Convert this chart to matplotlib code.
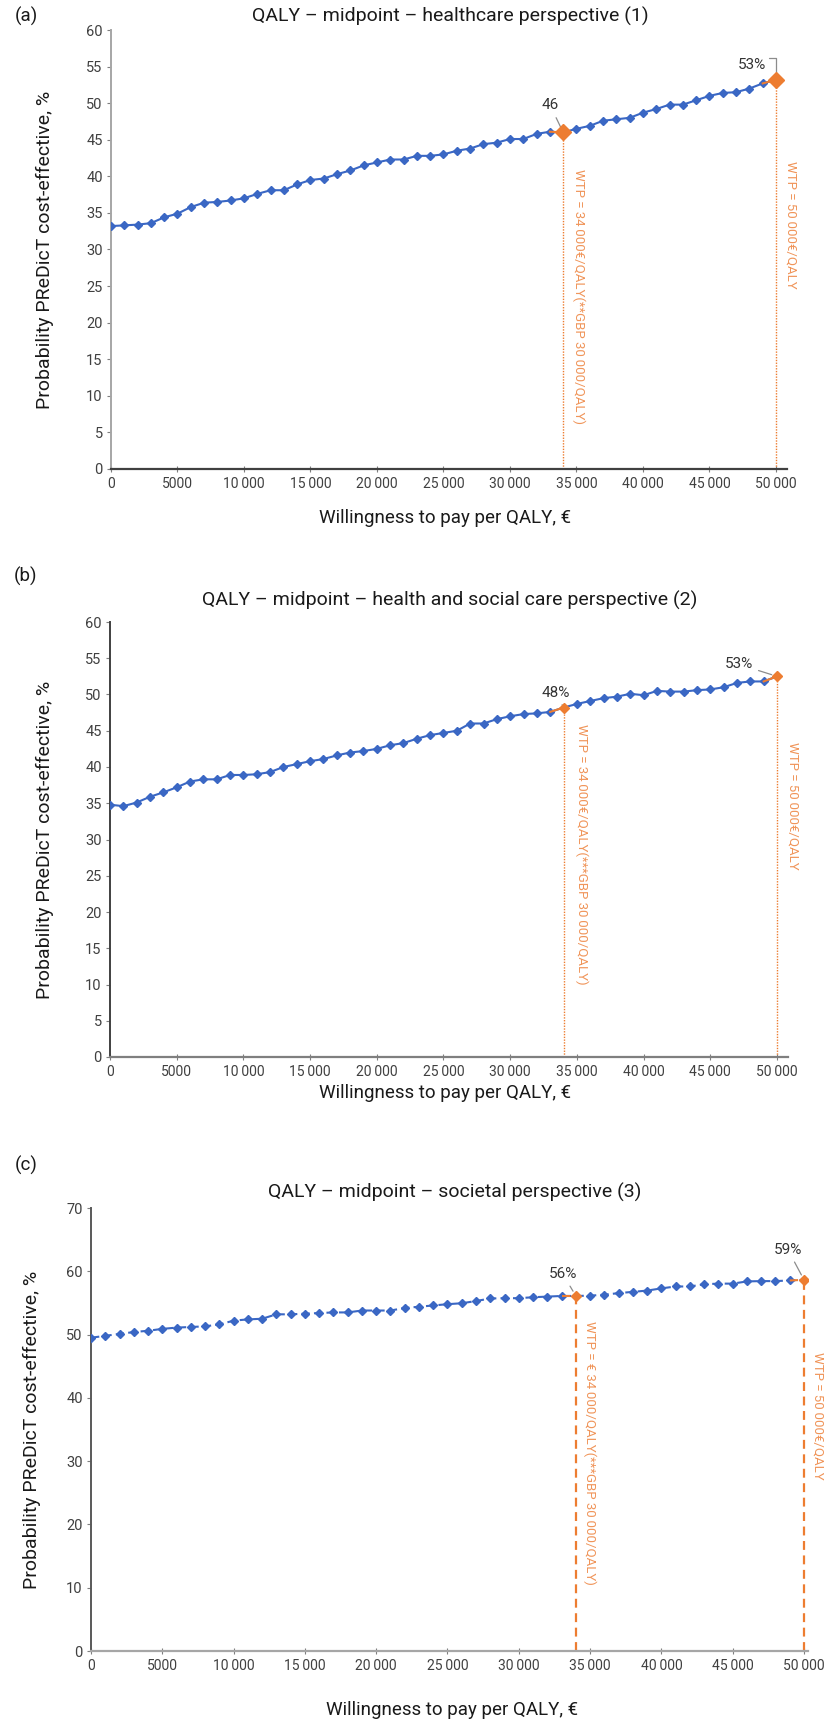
import numpy as np
import matplotlib.pyplot as plt

# размеры эталона в пикселях
W, H = 829, 1726

wtp = np.arange(0, 50001, 1000)

# вероятность cost-effective, %
prob_healthcare = [33.2, 33.3, 33.4, 33.6, 34.4, 34.9, 35.8, 36.4, 36.5, 36.7,
                   37.0, 37.6, 38.1, 38.1, 38.9, 39.5, 39.7, 40.3, 40.8, 41.5,
                   41.9, 42.3, 42.3, 42.8, 42.8, 43.0, 43.5, 43.8, 44.4, 44.6,
                   45.1, 45.1, 45.8, 46.1, 46.0, 46.5, 46.9, 47.6, 47.8, 48.0,
                   48.7, 49.2, 49.8, 49.8, 50.4, 51.0, 51.4, 51.5, 52.0, 52.7,
                   53.2]
prob_health_social = [34.8, 34.6, 35.1, 35.9, 36.5, 37.2, 38.0, 38.3, 38.3, 38.9,
                      38.9, 39.0, 39.3, 40.0, 40.4, 40.8, 41.1, 41.6, 42.0, 42.2,
                      42.5, 43.0, 43.3, 43.9, 44.4, 44.7, 45.0, 46.0, 46.0, 46.6,
                      47.0, 47.3, 47.4, 47.6, 48.2, 48.7, 49.1, 49.5, 49.7, 50.1,
                      49.9, 50.5, 50.4, 50.4, 50.6, 50.7, 51.0, 51.6, 51.8, 51.8,
                      52.5]
prob_societal = [49.5, 49.8, 50.1, 50.4, 50.6, 50.9, 51.1, 51.2, 51.3, 51.6,
                 52.2, 52.4, 52.5, 53.2, 53.2, 53.3, 53.4, 53.5, 53.5, 53.8,
                 53.8, 53.8, 54.2, 54.4, 54.6, 54.8, 54.95, 55.3, 55.7, 55.75,
                 55.75, 55.9, 56.0, 56.1, 56.1, 56.15, 56.3, 56.55, 56.75, 56.95,
                 57.3, 57.6, 57.6, 57.95, 58.05, 58.05, 58.4, 58.45, 58.45, 58.55,
                 58.65]

titles = ["QALY – midpoint – healthcare perspective (1)",
          "QALY – midpoint – health and social care perspective (2)",
          "QALY – midpoint – societal perspective (3)"]
letters = ["(a)", "(b)", "(c)"]
wtp34_labels = ["WTP = 34\u2009000€/QALY(**GBP 30\u2009000/QALY)",
                "WTP = 34\u2009000€/QALY(***GBP 30\u2009000/QALY)",
                "WTP = € 34\u2009000/QALY(***GBP 30\u2009000/QALY)"]
wtp50_label = "WTP = 50\u2009000€/QALY"
point_labels = [("46", "53%"), ("48%", "53%"), ("56%", "59%")]

BLUE = "#3A67C4"
ORANGE = "#ED7D31"
GREY_TXT = "#404040"

plt.rcParams["font.family"] = ["Roboto", "DejaVu Sans"]

fig = plt.figure(figsize=(W / 100, H / 100), dpi=100)


def rect(left, right, top, bottom):
    return [left / W, 1 - bottom / H, (right - left) / W, (bottom - top) / H]


def xlab(v):
    if v < 10000:
        return str(int(v))
    return f"{int(v) // 1000}\u2009000"


def draw_panel(values, geo, i):
    x0, x50, top, bottom, ymax, ystep, xmax = geo["box"]
    right = x0 + (x50 - x0) * xmax / 50000
    ax = fig.add_axes(rect(x0, right, top, bottom))
    vals = np.array(values)

    ls = (0, (4, 2)) if i == 2 else "-"
    ax.plot(wtp, vals, color=BLUE, lw=1.5, ls=ls, marker="D", ms=3.6,
            mfc=BLUE, mec=BLUE, zorder=3)
    # сегменты перед отмеченными точками в оранжевом
    for k in (34, 50):
        ax.plot(wtp[k - 1:k + 1], vals[k - 1:k + 1], color=ORANGE, lw=1.5,
                ls=ls, zorder=3)
    ms_o = 8 if i == 0 else 5
    ax.plot(wtp[[34, 50]], vals[[34, 50]], "D", color=ORANGE, ms=ms_o, zorder=4)

    # вертикальные линии WTP
    vls = (0, (4, 2.5)) if i == 2 else (0, (1, 1))
    vlw = 1.6 if i == 2 else 1.0
    for k in (34, 50):
        ax.plot([wtp[k], wtp[k]], [0, vals[k]], color=ORANGE, ls=vls, lw=vlw, zorder=2)

    # подписи WTP, повернутые
    for k, s, (dx, dy) in zip((34, 50), (wtp34_labels[i], wtp50_label), geo["wtp_txt"]):
        ax.annotate(s, xy=(wtp[k], vals[k]), xytext=(dx, -dy), textcoords="offset pixels",
                    rotation=270, ha="left", va="top", fontsize=9.5, color="#F0955A")

    # подписи значений
    for k, s, (dx, dy), conn in zip((34, 50), point_labels[i], geo["lbl"], geo["conn"]):
        arrow = dict(arrowstyle="-", color="#8c8c8c", lw=0.9, shrinkA=2, shrinkB=4)
        if conn:
            arrow.update(connectionstyle="angle,angleA=0,angleB=90,rad=0", relpos=(1, 1),
                         shrinkA=0, shrinkB=5)
        ax.annotate(s, xy=(wtp[k], vals[k]), xytext=(dx, dy), textcoords="offset pixels",
                    ha="center", va="center", fontsize=11, color="#333333",
                    arrowprops=arrow)

    ax.set_xlim(0, xmax)
    ax.set_ylim(0, ymax)
    xt = np.arange(0, 50001, 5000)
    ax.set_xticks(xt)
    ax.set_xticklabels([xlab(v) for v in xt])
    ax.set_yticks(np.arange(0, ymax + 1, ystep))
    ax.tick_params(axis="x", direction="inout", length=5, color="#7f7f7f",
                   labelsize=10, labelcolor=GREY_TXT, pad=3)
    ax.tick_params(axis="y", direction="out", length=3, color="#7f7f7f",
                   labelsize=10.5, labelcolor=GREY_TXT, pad=3)
    for side in ("top", "right"):
        ax.spines[side].set_visible(False)
    ax.spines["left"].set_color(geo["lc"])
    ax.spines["left"].set_linewidth(1.4)
    ax.spines["bottom"].set_color(geo["bc"])
    ax.spines["bottom"].set_linewidth(1.6)
    ax.set_facecolor("none")

    fig.text(geo["title"][0] / W, 1 - geo["title"][1] / H, titles[i], ha="center",
             va="center", fontsize=14, color="#1a1a1a")
    fig.text(26 / W, 1 - geo["letter"] / H, letters[i], ha="center", va="center",
             fontsize=13.5, color="#1a1a1a")
    fig.text(geo["xlabel"][0] / W, 1 - geo["xlabel"][1] / H,
             "Willingness to pay per QALY, €", ha="center", va="center",
             fontsize=13.5, color="#1a1a1a")
    fig.text(geo["ylabel"] / W, 1 - (top + bottom) / 2 / H,
             "Probability PReDicT cost-effective, %", ha="center", va="center",
             rotation=90, fontsize=14, color="#1a1a1a")
    return ax


panels = [
    dict(box=(111, 776, 30, 469, 60, 5, 50800), wtp_txt=[(9, 37), (8, 81)],
         lbl=[(-13, 27), (-24, 15)], conn=[False, True], lc="#A6A6A6", bc="#404040",
         title=(450, 16), letter=16, xlabel=(445, 518), ylabel=45),
    dict(box=(110, 777, 622, 1057, 60, 5, 50800), wtp_txt=[(11, 16), (9, 66)],
         lbl=[(-8, 15), (-38, 12)], conn=[False, False], lc="#404040", bc="#7f7f7f",
         title=(450, 600), letter=576, xlabel=(445, 1093), ylabel=45),
    dict(box=(91, 804, 1208, 1651, 70, 10, 50300), wtp_txt=[(7, 25), (7, 72)],
         lbl=[(-13, 22), (-16, 30)], conn=[False, False], lc="#595959", bc="#A6A6A6",
         title=(455, 1192), letter=1165, xlabel=(452, 1710), ylabel=32),
]

for i, (vals, geo) in enumerate(zip([prob_healthcare, prob_health_social, prob_societal], panels)):
    draw_panel(vals, geo, i)

fig.savefig("out.png", dpi=100)
